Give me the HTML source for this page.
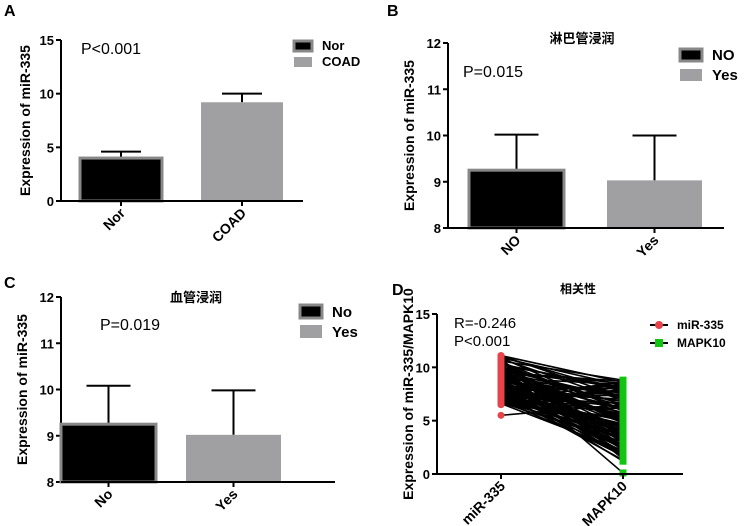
<!DOCTYPE html>
<html><head><meta charset="utf-8"><style>
body{margin:0;background:#fff}
svg{display:block;font-family:"Liberation Sans","Noto Sans CJK SC",sans-serif}
</style></head><body>
<svg id="s" width="744" height="526" viewBox="0 0 744 526"></svg>
<script>
// Panel A data
const aCats=["Nor","COAD"];const aVals=[4.0,9.2];const aErr=[4.6,10.0];
const aTicks=[0,5,10,15];
// Panel B data
const bCats=["NO","Yes"];const bVals=[9.25,9.03];const bErr=[10.02,10.0];
const bTicks=[8,9,10,11,12];
// Panel C data
const cCats=["No","Yes"];const cVals=[9.25,9.02];const cErr=[10.08,9.98];
const cTicks=[8,9,10,11,12];
// Panel D data
const dCats=["miR-335","MAPK10"];const dTicks=[0,5,10,15];
const dMir=[11.1,10.9,10.8,10.6,10.5,10.3,10.2,10.1,10.0,9.9,9.8,9.7,9.6,9.5,9.4,9.3,9.2,9.1,9.0,8.9,8.8,8.7,8.6,8.5,8.4,8.3,8.2,8.1,8.0,7.9,7.8,7.7,7.6,7.5,7.4,7.3,7.2,7.1,7.0,6.9,6.8,6.7,6.6,6.5,5.5,10.7,9.6,8.9,7.4,6.6,
  11.0,10.8,10.4,10.1,9.9,9.7,9.5,9.2,9.0,8.8,8.6,8.3,8.1,7.9,7.7,7.5,7.3,7.1,6.9,6.7,10.6,10.3,9.8,9.4,9.1,8.7,8.4,8.0,7.6,7.2,6.8,6.5,10.9,10.0,9.3,8.5,7.8,7.0,11.1,10.5,9.6,8.2,7.4,6.6,10.2,9.0,8.9,7.9,7.1,6.9];
const dMapk=[8.6,8.3,1.4,8.8,2.2,7.9,3.0,6.5,5.1,0.1,4.2,8.1,1.9,7.2,3.6,6.0,2.6,4.8,8.4,1.6,5.5,7.6,3.2,2.0,6.8,4.5,1.2,8.0,3.9,5.8,2.4,7.0,4.0,6.3,1.7,5.0,3.4,7.4,2.8,6.1,4.4,3.0,5.3,8.2,6.5,1.5,8.5,2.3,4.7,7.8,
  7.7,6.9,5.6,4.9,3.3,2.7,8.7,7.3,6.2,5.2,4.1,3.5,2.1,1.8,8.3,7.5,6.6,5.7,4.6,3.8,2.9,8.0,7.1,6.4,5.4,4.3,3.1,2.5,1.3,8.6,7.9,6.7,5.9,4.8,3.7,2.6,1.9,8.4,7.2,6.0,5.0,4.0,3.2,2.2,8.1,7.6,5.3,4.4,3.6,2.0];

const svg=document.getElementById('s');const NS='http://www.w3.org/2000/svg';
function mk(t,a,p){const e=document.createElementNS(NS,t);for(const k in a)e.setAttribute(k,a[k]);(p||svg).appendChild(e);return e;}
function txt(s,a,p){const e=mk('text',a,p);e.textContent=s;return e;}

function axisY(g,x0,yTop,yBot,ticks,title,titleX){
  const lo=ticks[0],hi=ticks[ticks.length-1];
  const y=v=>yBot-(v-lo)/(hi-lo)*(yBot-yTop);
  const ax=mk('line',{x1:x0,y1:yTop,x2:x0,y2:yBot,stroke:'#000','stroke-width':2},g);
  
  ticks.forEach(t=>{mk('line',{x1:x0-5,x2:x0,y1:y(t),y2:y(t),stroke:'#000','stroke-width':2},g);
    const l=txt(t,{x:x0-7,y:y(t)+5,'text-anchor':'end','font-size':13,'font-weight':'bold'},g);
    });
  const ym=(yTop+yBot)/2;
  const tt=txt(title,{x:titleX,y:ym,'text-anchor':'middle','font-size':14,'font-weight':'bold',transform:`rotate(-90 ${titleX} ${ym})`},g);
  
  return y;
}
function xAxis(g,x0,x1,yb,cats,cx){
  const ax=mk('line',{x1:x0,x2:x1,y1:yb,y2:yb,stroke:'#000','stroke-width':2},g);
  
  cats.forEach((c,i)=>{mk('line',{x1:cx[i],x2:cx[i],y1:yb,y2:yb+5,stroke:'#000','stroke-width':2},g);
    const l=txt(c,{x:cx[i]+5,y:yb+13,'text-anchor':'end','font-size':14,'font-weight':'bold',transform:`rotate(-45 ${cx[i]+5} ${yb+13})`},g);
    });
}
function barPanel(o){
  const g=mk('g',{});
  const L=txt(o.letter,{x:o.lx,y:o.ly,'font-size':16,'font-weight':'bold'},g);
  
  const y=axisY(g,o.x0,o.yTop,o.yBot,o.ticks,'Expression of miR-335',o.tx);
  const cols=['#000','#a0a0a2'];const cx=[];
  o.cats.forEach((c,i)=>{
    const bx=o.bx[i],bw=o.bw;cx.push(bx+bw/2);
    const er=mk('line',{x1:bx+bw/2,x2:bx+bw/2,y1:y(o.err[i]),y2:y(o.vals[i]),stroke:'#000','stroke-width':2},g);
    
    mk('line',{x1:bx+bw/2-o.cap,x2:bx+bw/2+o.cap,y1:y(o.err[i]),y2:y(o.err[i]),stroke:'#000','stroke-width':2},g);
    const b=mk('rect',{x:bx,y:y(o.vals[i]),width:bw,height:o.yBot-y(o.vals[i]),fill:cols[i],stroke:i==0?'#888':'none','stroke-width':3},g);
    
  });
  xAxis(g,o.x0,o.xEnd,o.yBot,o.cats,cx);
  if(o.title){const t=txt(o.title,{x:o.titleX,y:o.titleY,'text-anchor':'middle','font-size':13,'font-weight':'bold'},g);
    }
  const p=txt(o.p,{x:o.px,y:o.py,'font-size':16},g);
  o.cats.forEach((c,i)=>{
    const le=mk('g',{},g);
    mk('rect',{x:o.legx,y:o.legy+i*o.legdy,width:o.legw,height:o.legh,fill:cols[i],stroke:i==0?'#888':'none','stroke-width':3},le);
    txt(c,{x:o.legx+o.legw+10,y:o.legy+i*o.legdy+o.legh-1,'font-size':o.legfs,'font-weight':'bold'},le);
  });
}
barPanel({name:'panel-a',letter:'A',lx:4,ly:16,x0:61,yTop:40,yBot:201,ticks:aTicks,tx:30,cats:aCats,vals:aVals,err:aErr,bx:[80,201],bw:82,cap:20,xEnd:303,title:null,p:'P<0.001',px:81,py:54,legx:294,legy:41,legdy:16,legw:18,legh:10,legfs:13});
barPanel({name:'panel-b',letter:'B',lx:387,ly:16,x0:448,yTop:43,yBot:228,ticks:bTicks,tx:414,cats:bCats,vals:bVals,err:bErr,bx:[469,607],bw:95,cap:22,xEnd:724,title:'淋巴管浸润',titleX:582,titleY:43,p:'P=0.015',px:463,py:77,legx:680,legy:49,legdy:20,legw:22,legh:12,legfs:15});
barPanel({name:'panel-c',letter:'C',lx:4,ly:288,x0:61,yTop:297,yBot:482,ticks:cTicks,tx:27,cats:cCats,vals:cVals,err:cErr,bx:[61,186],bw:95,cap:22,xEnd:335,title:'血管浸润',titleX:196,titleY:302,p:'P=0.019',px:100,py:330,legx:300,legy:305,legdy:20,legw:22,legh:13,legfs:15});

// Panel D
(function(){
  const g=mk('g',{});
  const L=txt('D',{x:392,y:295,'font-size':16,'font-weight':'bold'},g);
  const y=axisY(g,437,314,474,dTicks,'Expression of miR-335/MAPK10',413);
  const cx=[501,623];
  const lines=mk('g',{},g);
  dMir.forEach((v,i)=>{mk('line',{x1:cx[0],y1:y(v),x2:cx[1],y2:y(dMapk[i]),stroke:'#000','stroke-width':1.6},lines);});
  dMir.forEach(v=>{const c=mk('circle',{cx:cx[0],cy:y(v),r:3.5,fill:'#e8434a'},g);});
  dMapk.forEach(v=>{const r=mk('rect',{x:cx[1]-3.5,y:y(v)-3.5,width:7,height:7,fill:'#11c511'},g);});
  xAxis(g,437,683,474,dCats,cx);
  const t=txt('相关性',{x:578,y:293,'text-anchor':'middle','font-size':12,'font-weight':'bold'},g);
  const r=txt('R=-0.246',{x:454,y:328,'font-size':15},g);
  const p=txt('P<0.001',{x:454,y:346,'font-size':15},g);
  const le1=mk('g',{},g);
  mk('line',{x1:650,x2:668,y1:325,y2:325,stroke:'#000','stroke-width':2},le1);mk('circle',{cx:659,cy:325,r:4,fill:'#e8434a'},le1);
  txt('miR-335',{x:677,y:329,'font-size':12,'font-weight':'bold'},le1);
  const le2=mk('g',{},g);
  mk('line',{x1:650,x2:668,y1:343,y2:343,stroke:'#000','stroke-width':2},le2);mk('rect',{x:655,y:339,width:8,height:8,fill:'#11c511'},le2);
  txt('MAPK10',{x:677,y:347,'font-size':12,'font-weight':'bold'},le2);
})();
</script>
</body></html>
